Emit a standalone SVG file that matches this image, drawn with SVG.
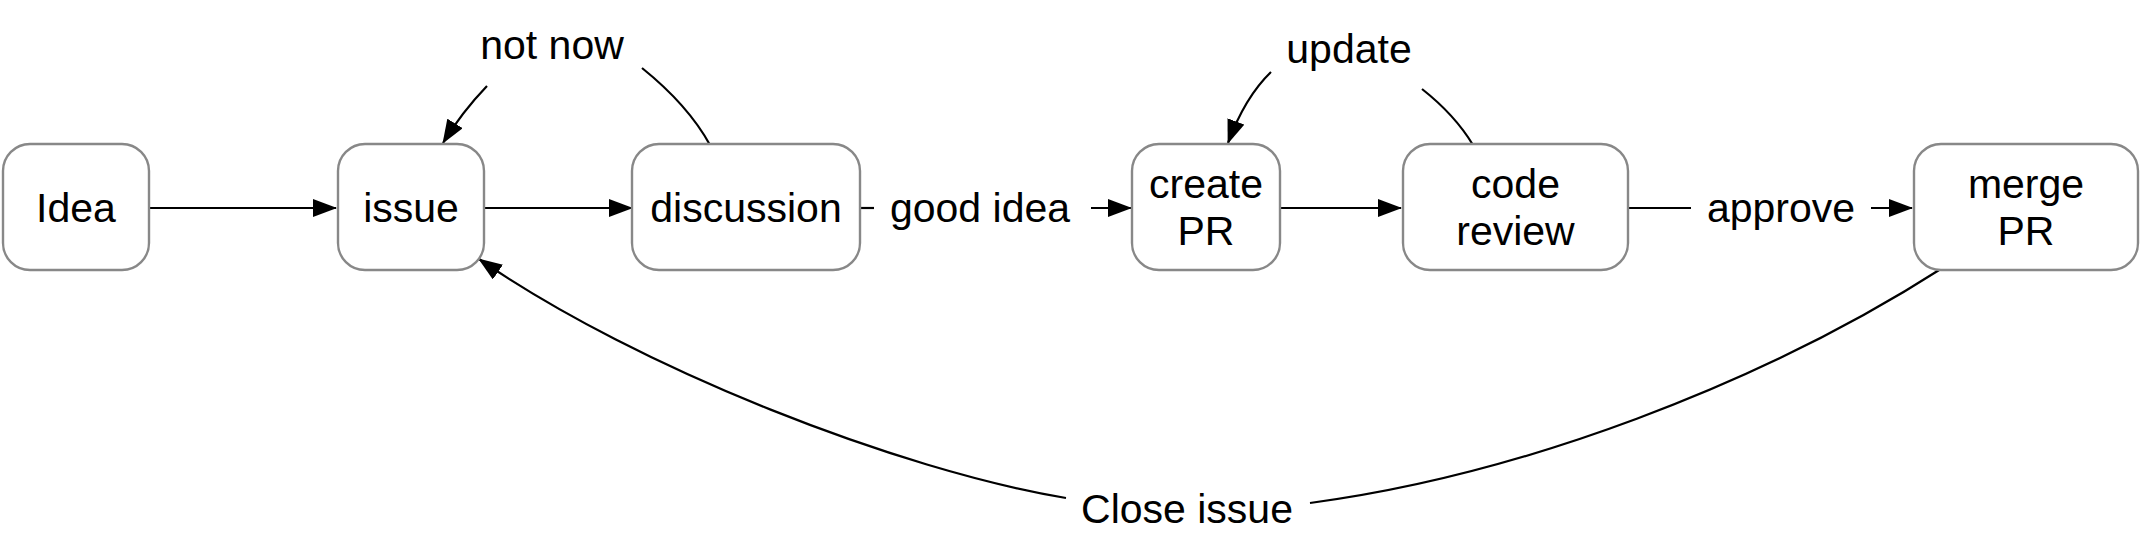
<svg xmlns="http://www.w3.org/2000/svg" width="2141" height="551" viewBox="0 0 2141 551">
<defs>
<style>
.node{fill:#ffffff;stroke:#888888;stroke-width:2.4}
.t{font-family:"Liberation Sans",Arial,Helvetica,sans-serif;font-size:41px;fill:#000;text-anchor:middle}
.e{fill:none;stroke:#000;stroke-width:2.2}
</style>
<marker id="arr" viewBox="0 0 24 18" refX="23" refY="9" markerWidth="24" markerHeight="18" markerUnits="userSpaceOnUse" orient="auto">
<path d="M0,0 L24,9 L0,18 z" fill="#000"/>
</marker>
</defs>
<rect width="2141" height="551" fill="#ffffff"/>
<g id="connectors">
<path class="e" d="M149,208 L336,208" marker-end="url(#arr)"/>
<path class="e" d="M484,208 L632,208" marker-end="url(#arr)"/>
<path class="e" d="M860,208 L874,208"/>
<path class="e" d="M1091,208 L1131,208" marker-end="url(#arr)"/>
<path class="e" d="M1280,208 L1401,208" marker-end="url(#arr)"/>
<path class="e" d="M1628,208 L1691,208"/>
<path class="e" d="M1871,208 L1912,208" marker-end="url(#arr)"/>
<path class="e" d="M710,145 Q688,105 642,68"/>
<path class="e" d="M487,86 Q462,112 443,143" marker-end="url(#arr)"/>
<path class="e" d="M1473,145 Q1455,115 1422,89"/>
<path class="e" d="M1271,72 Q1245,97 1228,143" marker-end="url(#arr)"/>
<path class="e" d="M1944,267 C1760,385 1520,475 1310,503"/>
<path class="e" d="M1066,498 C900,470 640,370 479,259" marker-end="url(#arr)"/>
<text class="t" x="980" y="222">good idea</text>
<text class="t" x="1781" y="222">approve</text>
<text class="t" x="552" y="59">not now</text>
<text class="t" x="1349" y="63">update</text>
<text class="t" x="1187" y="523">Close issue</text>
</g>
<g id="idea">
<rect class="node" x="3" y="144" width="146" height="126" rx="27" ry="27"/>
<text class="t" x="76" y="222">Idea</text>
</g>
<g id="issue">
<rect class="node" x="338" y="144" width="146" height="126" rx="27" ry="27"/>
<text class="t" x="411" y="222">issue</text>
</g>
<g id="discussion">
<rect class="node" x="632" y="144" width="228" height="126" rx="27" ry="27"/>
<text class="t" x="746" y="222">discussion</text>
</g>
<g id="create-pr">
<rect class="node" x="1132" y="144" width="148" height="126" rx="27" ry="27"/>
<text class="t" x="1206" y="198">create</text>
<text class="t" x="1206" y="245">PR</text>
</g>
<g id="code-review">
<rect class="node" x="1403" y="144" width="225" height="126" rx="27" ry="27"/>
<text class="t" x="1515.5" y="198">code</text>
<text class="t" x="1515.5" y="245">review</text>
</g>
<g id="merge-pr">
<rect class="node" x="1914" y="144" width="224" height="126" rx="27" ry="27"/>
<text class="t" x="2026" y="198">merge</text>
<text class="t" x="2026" y="245">PR</text>
</g>
</svg>
